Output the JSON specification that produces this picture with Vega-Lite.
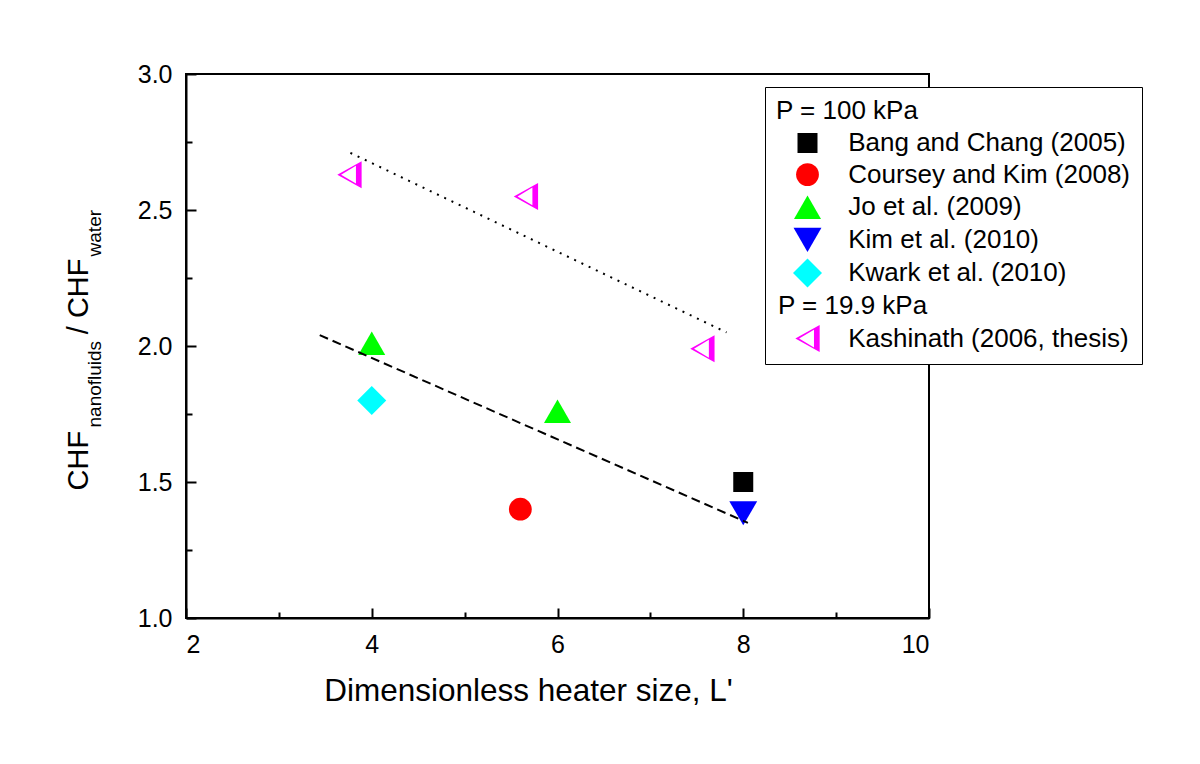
{
  "$schema": "https://vega.github.io/schema/vega-lite/v6.json",
  "width": 743,
  "height": 544,
  "autosize": {"type": "none"},
  "padding": {"left": 186, "top": 74, "right": 271, "bottom": 146},
  "background": "white",
  "config": {
    "font": "Liberation Sans",
    "view": {"stroke": "black", "strokeWidth": 2},
    "axis": {
      "grid": false,
      "domainColor": "black",
      "domainWidth": 2,
      "tickColor": "black",
      "tickWidth": 2,
      "labelColor": "black",
      "labelFont": "Liberation Sans",
      "labelFontSize": 25,
      "titleColor": "black",
      "titleFont": "Liberation Sans",
      "titleFontWeight": "normal"
    },
    "legend": {
      "labelFont": "Liberation Sans",
      "labelFontSize": 26,
      "labelColor": "black",
      "labelLimit": 0,
      "titleFont": "Liberation Sans",
      "titleFontSize": 26,
      "titleFontWeight": "normal",
      "titleColor": "black",
      "titleLimit": 0,
      "titlePadding": 6,
      "strokeColor": "black",
      "fillColor": "white",
      "padding": 11,
      "symbolStrokeWidth": 0
    }
  },
  "datasets": {
    "points": [
      {"series": "Bang and Chang (2005)", "L": 8.0, "ratio": 1.50},
      {"series": "Coursey and Kim (2008)", "L": 5.6, "ratio": 1.40},
      {"series": "Jo et al. (2009)", "L": 4.0, "ratio": 2.01},
      {"series": "Jo et al. (2009)", "L": 6.0, "ratio": 1.76},
      {"series": "Kim et al. (2010)", "L": 8.0, "ratio": 1.385},
      {"series": "Kwark et al. (2010)", "L": 4.0, "ratio": 1.80},
      {"series": "Kashinath (2006, thesis)", "L": 3.76, "ratio": 2.63},
      {"series": "Kashinath (2006, thesis)", "L": 5.66, "ratio": 2.55},
      {"series": "Kashinath (2006, thesis)", "L": 7.56, "ratio": 1.99}
    ],
    "fits": [
      {"fit": "dotted", "L": 3.77, "ratio": 2.71},
      {"fit": "dotted", "L": 7.82, "ratio": 2.05},
      {"fit": "dashed", "L": 3.44, "ratio": 2.04},
      {"fit": "dashed", "L": 8.05, "ratio": 1.35}
    ]
  },
  "layer": [
    {
      "data": {"name": "points"},
      "mark": {"type": "point", "filled": true, "opacity": 1},
      "encoding": {
        "x": {
          "field": "L", "type": "quantitative",
          "scale": {"domain": [2, 10], "nice": false, "zero": false},
          "axis": {
            "orient": "bottom",
            "values": [2, 4, 6, 8, 10],
            "tickSize": -10,
            "labelPadding": 24,
            "title": "Dimensionless heater size, L'",
            "titleFontSize": 31.5,
            "titleX": 342,
            "titleY": 82,
            "titleAlign": "center",
            "titleBaseline": "alphabetic"
          }
        },
        "y": {
          "field": "ratio", "type": "quantitative",
          "scale": {"domain": [1, 3], "nice": false, "zero": false},
          "axis": {
            "orient": "left",
            "values": [1, 1.5, 2, 2.5, 3],
            "format": ".1f",
            "tickSize": -10,
            "labelPadding": 24,
            "title": "CHF\u00a0\u00a0\u00a0\u00a0\u00a0\u00a0\u00a0\u00a0\u00a0\u00a0\u00a0\u00a0/ CHF",
            "titleFontSize": 29,
            "titleAngle": 270,
            "titleX": -99,
            "titleY": 416,
            "titleAlign": "left",
            "titleBaseline": "alphabetic"
          }
        },
        "color": {
          "field": "series", "type": "nominal", "title": "P = 100 kPa",
          "scale": {
            "domain": ["Bang and Chang (2005)", "Coursey and Kim (2008)", "Jo et al. (2009)", "Kim et al. (2010)", "Kwark et al. (2010)", "P = 19.9 kPa", "Kashinath (2006, thesis)"],
            "range": ["#000000", "#ff0000", "#00ff00", "#0000ff", "#00ffff", "transparent", "#ff00ff"]
          },
          "legend": {
            "orient": "none", "legendX": 579, "legendY": 13,
            "symbolOffset": 17, "labelOffset": -44, "rowPadding": 5.6,
            "labelExpr": "datum.value == 'P = 19.9 kPa' ? datum.label : '\u200b\u00a0\u00a0\u00a0\u00a0\u00a0\u00a0\u00a0\u00a0\u00a0\u2009' + datum.label"
          }
        },
        "shape": {
          "field": "series", "type": "nominal", "title": "P = 100 kPa",
          "scale": {
            "domain": ["Bang and Chang (2005)", "Coursey and Kim (2008)", "Jo et al. (2009)", "Kim et al. (2010)", "Kwark et al. (2010)", "P = 19.9 kPa", "Kashinath (2006, thesis)"],
            "range": ["square", "circle", "triangle-up", "triangle-down", "diamond", "circle", "M0.9,-1L-0.9,0L0.9,1ZM0.48,0.66L-0.62,0L0.48,-0.66Z"]
          },
          "legend": {"orient": "none", "legendX": 579, "legendY": 13}
        },
        "size": {
          "field": "series", "type": "nominal", "title": "P = 100 kPa",
          "scale": {
            "type": "ordinal",
            "domain": ["Bang and Chang (2005)", "Coursey and Kim (2008)", "Jo et al. (2009)", "Kim et al. (2010)", "Kwark et al. (2010)", "P = 19.9 kPa", "Kashinath (2006, thesis)"],
            "range": [400, 520, 730, 780, 840, 0, 730]
          },
          "legend": {"orient": "none", "legendX": 579, "legendY": 13}
        }
      }
    },
    {
      "data": {"name": "fits"},
      "mark": {"type": "line", "color": "black", "strokeWidth": 2},
      "encoding": {
        "x": {
          "field": "L", "type": "quantitative",
          "axis": {
            "orient": "bottom",
            "values": [3, 5, 7, 9],
            "labels": false,
            "domain": false,
            "tickSize": -6,
            "title": null
          }
        },
        "y": {
          "field": "ratio", "type": "quantitative",
          "axis": {
            "orient": "left",
            "values": [1.25, 1.75, 2.25, 2.75],
            "labels": false,
            "domain": false,
            "tickSize": -6,
            "title": "nanofluids\u00a0\u00a0\u00a0\u00a0\u00a0\u00a0\u00a0\u00a0\u00a0\u00a0\u00a0\u00a0\u00a0\u00a0\u00a0\u00a0water",
            "titleFontSize": 19,
            "titleAngle": 270,
            "titleX": -86,
            "titleY": 353,
            "titleAlign": "left",
            "titleBaseline": "alphabetic"
          }
        },
        "detail": {"field": "fit", "type": "nominal"},
        "strokeDash": {
          "field": "fit", "type": "nominal",
          "scale": {"domain": ["dotted", "dashed"], "range": [[2, 6], [9, 5]]},
          "legend": null
        }
      }
    }
  ],
  "resolve": {"axis": {"x": "independent", "y": "independent"}}
}
